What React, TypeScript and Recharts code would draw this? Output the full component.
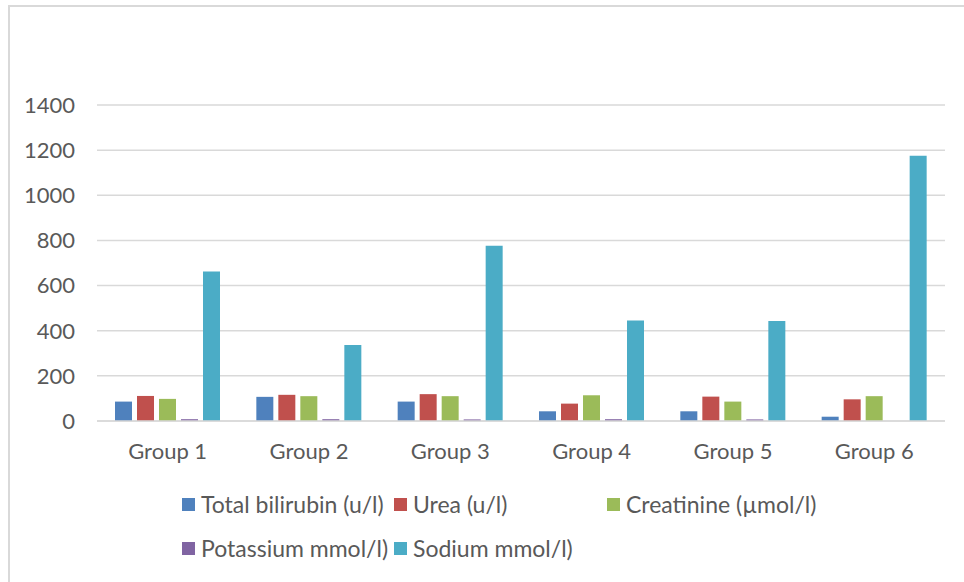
import React from 'react';
import { BarChart, Bar, XAxis, YAxis, CartesianGrid } from 'recharts';

const categories = ['Group 1', 'Group 2', 'Group 3', 'Group 4', 'Group 5', 'Group 6'];
const totalBilirubin = [86, 107, 86, 43, 43, 19];
const urea = [111, 116, 119, 77, 108, 96];
const creatinine = [98, 110, 110, 114, 86, 110];
const potassium = [8, 8, 7, 8, 7, 0];
const sodium = [662, 337, 776, 445, 443, 1175];
const yTicks = [0, 200, 400, 600, 800, 1000, 1200, 1400];

const series = [
  { key: 'bili', name: 'Total bilirubin (u/l)', color: '#4F81BD', values: totalBilirubin },
  { key: 'urea', name: 'Urea (u/l)', color: '#C0504D', values: urea },
  { key: 'crea', name: 'Creatinine (\u00b5mol/l)', color: '#9BBB59', values: creatinine },
  { key: 'pot', name: 'Potassium mmol/l)', color: '#8064A2', values: potassium },
  { key: 'sod', name: 'Sodium mmol/l)', color: '#4BACC6', values: sodium },
];

const data = categories.map((c, i) => {
  const row: Record<string, string | number> = { name: c };
  series.forEach((s) => {
    row[s.key] = s.values[i];
  });
  return row;
});

const FONT = 'Lato, "Noto Sans", sans-serif';
const TEXT = '#595959';

export default function App() {
  return (
    <div style={{ position: 'absolute', left: 0, top: 0, width: 964, height: 582, overflow: 'hidden', background: '#fff' }}>
      <div
        style={{
          position: 'absolute',
          left: 8,
          top: 5,
          width: 1000,
          height: 1000,
          border: '2px solid #D9D9D9',
          boxSizing: 'border-box',
        }}
      />
      <div style={{ position: 'absolute', left: 0, top: 0 }}>
        <BarChart
          width={964}
          height={582}
          data={data}
          margin={{ top: 105, right: 19, bottom: 101, left: 0 }}
          barSize={17}
          barGap={5}
        >
          <CartesianGrid vertical={false} stroke="#D9D9D9" strokeWidth={1.5} />
          <XAxis
            dataKey="name"
            height={60}
            axisLine={{ stroke: '#D9D9D9', strokeWidth: 1.5 }}
            tickLine={false}
            tickSize={0}
            tickMargin={22}
            tick={{ fill: TEXT, fontSize: 22, fontFamily: FONT }}
            interval={0}
          />
          <YAxis
            width={97}
            domain={[0, 1400]}
            ticks={yTicks}
            axisLine={false}
            tickLine={false}
            tickSize={0}
            tickMargin={22}
            tick={{ fill: TEXT, fontSize: 22, fontFamily: FONT }}
          />
          {series.map((s) => (
            <Bar key={s.key} dataKey={s.key} name={s.name} fill={s.color} isAnimationActive={false} />
          ))}
        </BarChart>
      </div>
      <div
        style={{
          position: 'absolute',
          left: 182,
          top: 490,
          width: 680,
          display: 'grid',
          gridTemplateColumns: '212px 213px 250px',
          rowGap: 16,
          fontFamily: FONT,
          fontSize: 23,
          color: TEXT,
        }}
      >
        {series.map((s) => (
          <div key={s.key} style={{ display: 'flex', alignItems: 'center', height: 28, whiteSpace: 'nowrap' }}>
            <span style={{ display: 'inline-block', width: 13, height: 13, background: s.color, marginRight: 6, flexShrink: 0 }} />
            <span>{s.name}</span>
          </div>
        ))}
      </div>
    </div>
  );
}
